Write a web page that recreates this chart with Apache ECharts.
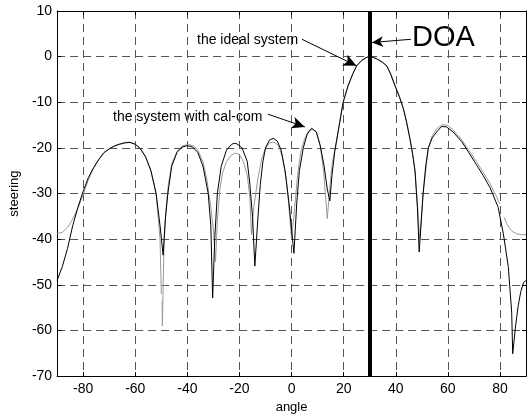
<!DOCTYPE html>
<html>
<head>
<meta charset="utf-8">
<script src="https://cdn.jsdelivr.net/npm/echarts@6/dist/echarts.min.js"></script>
<style>
  html, body { margin: 0; padding: 0; background: #fff; }
  #chart { width: 530px; height: 419px; }
</style>
</head>
<body>
<div id="chart"></div>
<script>
// angle ticks shown on the x axis
var xTicks = [-80, -60, -40, -20, 0, 20, 40, 60, 80];

// the system with cal-com (black)
var calAngle = [-90, -88, -86, -84, -82, -80, -78, -76, -74, -72, -70, -68, -66, -64, -62, -60, -58, -56, -54, -52, -50.5, -49.3, -48.5, -47.5, -46, -44, -42, -40, -38, -36, -34, -32, -31, -30.3, -29.5, -28.5, -27, -25, -23, -22, -21, -19, -17, -16, -15, -14.1, -13, -12, -11, -10, -8.5, -7, -5.5, -4, -2.5, -1, 0.9, 2, 3, 4.5, 6, 7.7, 9.5, 11, 12.5, 13.7, 14.7, 15.5, 16.6, 17.9, 19.8, 21.7, 23.5, 25, 27, 29, 30.7, 33, 35, 36.5, 38, 39.7, 41.5, 42.9, 44.2, 45.4, 46.5, 47.4, 48.3, 49, 49.8, 50.5, 51.5, 52.5, 54, 55.7, 57.6, 59.5, 62, 65.3, 68, 71, 73.5, 76.2, 79.3, 81.3, 83.2, 84.5, 84.9, 86, 87, 88, 89, 90];
var calSteer = [-49, -46, -42, -37, -33, -29.5, -26.5, -24.3, -22.5, -21, -20.2, -19.6, -19.2, -18.9, -18.8, -19.2, -20.2, -22, -25, -30, -37, -43.5, -36, -30, -24, -21, -19.8, -19.5, -19.8, -21, -24, -30, -37, -52.9, -40, -30, -24, -20.5, -19.2, -19, -19.1, -20, -23, -28, -35, -45.9, -36, -28, -23, -20, -18.3, -17.9, -18.5, -20.5, -25, -32, -43.1, -32, -25, -20, -17, -15.7, -16.5, -19.5, -24, -29, -31.6, -26, -20.7, -16.4, -10, -6.4, -3.8, -2, -0.8, -0.1, 0, -0.6, -1.3, -2, -3.8, -6.4, -9, -11.4, -14.5, -17.9, -21.5, -25.1, -33, -42.8, -36, -30, -24, -20, -17.8, -16.5, -15.3, -15.4, -16.5, -18.6, -21, -23.7, -26, -28.7, -33, -38.8, -46, -56, -65.1, -59, -54.6, -51.5, -49.6, -49];

// the ideal system (grey), null = gap in the trace
var idealAngle = [-90, -88, -86, -84, -82, -80, -78, -76, -74, -72, -70, -68, -66, -64, -62.5, -60, -58, -56, -54, -52, -50.5, -50, -49.9, -49.7, -49.6, -49, -48.3, -47.3, -46, -44, -42, -39.5, -37.5, -36, -34, -32.5, -31, -30, -29.2, -28.5, -27.5, -26.5, -25, -23, -21.5, -20, -18.5, -17, -16, -15.4, -14.5, -13, -11.5, -10, -8.5, -6.8, -5, -3.5, -2, -1, 0, 1.2, 2.3, 3.5, 5, 6.5, 8, 9.5, 11, 12.3, 13.7, 14.8, 15.7, 16.6, 17.9, 19.8, 21.7, 23.5, 25, 27, 29, 30.7, 33, 35, 36.5, 38, 39.7, 41.5, 42.9, 44.2, 45.4, 46.5, 47.4, 48.4, 49.2, 50.5, 52.5, 54, 56, 58, 60, 62, 65.3, 68, 71, 73.5, 76.2, 78.5, 80, 80.8, 81.6, 82.5, 83.8, 85, 86.4, 88, 90];
var idealSteer = [-38.8, -38.5, -37.4, -35.6, -33.2, -30.2, -27, -24.5, -22.6, -21.1, -20.2, -19.5, -19.1, -18.8, -18.7, -19.2, -20.2, -22, -25, -30, -40, -52, null, -53.5, -59, -42, -34, -28, -23.5, -20.8, -19.6, -19.2, -19.6, -20.5, -23, -27, -33, -38, -44.9, -36, -29, -25.5, -23, -21.5, -21.1, -21.5, -23, -26, -31, -39, -33, -27, -22.5, -20, -18.9, -18.7, -19.5, -22, -27, -33, -40, -33, -26, -21, -18, -16.3, -15.9, -16.5, -19.5, -25, -35.5, -28, -23, -20.5, -16.2, -10, -6.2, -3.7, -2, -0.8, -0.1, 0, -0.5, -1.2, -2, -3.6, -6.2, -8.8, -11.2, -14.3, -17.7, -21.3, -25, -33, -40, -30, -20, -17.3, -15.6, -14.9, -15.1, -16, -18.2, -20.5, -23, -25.3, -27.8, -30.5, -32.3, null, -35.2, -36.5, -37.7, -38.4, -38.8, -39, -39];

var doaAngle = 30;

function pairs(xs, ys) {
  return xs.map(function (x, i) { return [x, ys[i]]; });
}

var chart = echarts.init(document.getElementById('chart'));
var font = 'Liberation Sans, Arial, sans-serif';

chart.setOption({
  animation: false,
  backgroundColor: '#fff',
  grid: { left: 57, right: 4, top: 11, bottom: 38 },
  xAxis: [
    {
      type: 'value', min: -90, max: 90,
      name: 'angle', nameLocation: 'middle', nameGap: 22,
      nameTextStyle: { color: '#000', fontSize: 13, fontFamily: font },
      axisLine: { onZero: false, lineStyle: { color: '#000', width: 1 } },
      axisTick: { inside: true, length: 4, customValues: xTicks, lineStyle: { color: '#000' } },
      axisLabel: { customValues: xTicks, color: '#000', fontSize: 14, fontFamily: font, margin: 6 },
      splitLine: { show: true, lineStyle: { color: '#555', type: [8, 5], width: 1 } }
    },
    {
      type: 'value', min: -90, max: 90, position: 'top',
      axisLine: { onZero: false, lineStyle: { color: '#000', width: 1 } },
      axisTick: { inside: true, length: 4, customValues: xTicks, lineStyle: { color: '#000' } },
      axisLabel: { show: false },
      splitLine: { show: false }
    }
  ],
  yAxis: [
    {
      type: 'value', min: -70, max: 10, interval: 10,
      name: 'steering', nameLocation: 'middle', nameGap: 32,
      nameTextStyle: { color: '#000', fontSize: 13, fontFamily: font },
      axisLine: { show: true, onZero: false, lineStyle: { color: '#000', width: 1 } },
      axisTick: { show: true, inside: true, length: 4, lineStyle: { color: '#000' } },
      axisLabel: { color: '#000', fontSize: 14, fontFamily: font, margin: 5 },
      splitLine: { show: true, lineStyle: { color: '#555', type: [8, 5], width: 1 } }
    },
    {
      type: 'value', min: -70, max: 10, interval: 10, position: 'right',
      axisLine: { show: true, onZero: false, lineStyle: { color: '#000', width: 1 } },
      axisTick: { show: true, inside: true, length: 4, lineStyle: { color: '#000' } },
      axisLabel: { show: false },
      splitLine: { show: false }
    }
  ],
  series: [
    {
      name: 'the ideal system', type: 'line',
      data: pairs(idealAngle, idealSteer),
      showSymbol: false, symbol: 'none',
      lineStyle: { color: '#999', width: 1 },
      silent: true, z: 2
    },
    {
      name: 'the system with cal-com', type: 'line',
      data: pairs(calAngle, calSteer),
      showSymbol: false, symbol: 'none',
      lineStyle: { color: '#000', width: 1 },
      silent: true, z: 3,
      markLine: {
        silent: true, symbol: 'none', animation: false,
        label: { show: false },
        lineStyle: { color: '#000', width: 4, type: 'solid' },
        data: [{ xAxis: doaAngle }]
      }
    },
    {
      type: 'line', data: [], silent: true, z: 4,
      markLine: {
        silent: true, animation: false,
        symbol: ['none', 'arrow'], symbolSize: [9, 13],
        label: { show: false },
        lineStyle: { color: '#000', width: 1, type: 'solid' },
        data: [
          [{ coord: [4.0, 3.8] }, { coord: [24.9, -2.0] }],
          [{ coord: [-9.1, -12.6] }, { coord: [5.1, -15.4] }],
          [{ coord: [45.8, 3.8] }, { coord: [30.9, 3.1], symbolSize: [8, 11] }]
        ]
      }
    }
  ],
  graphic: [
    { type: 'text', x: 197, y: 40, silent: true,
      style: { text: 'the ideal system', font: '14px ' + font, fill: '#000', textVerticalAlign: 'middle' } },
    { type: 'text', x: 113, y: 117, silent: true,
      style: { text: 'the system with cal-com', font: '14px ' + font, fill: '#000', textVerticalAlign: 'middle' } },
    { type: 'text', x: 412, y: 38, silent: true,
      style: { text: 'DOA', font: '29px ' + font, fill: '#000', textVerticalAlign: 'middle' } }
  ]
});
</script>
</body>
</html>
